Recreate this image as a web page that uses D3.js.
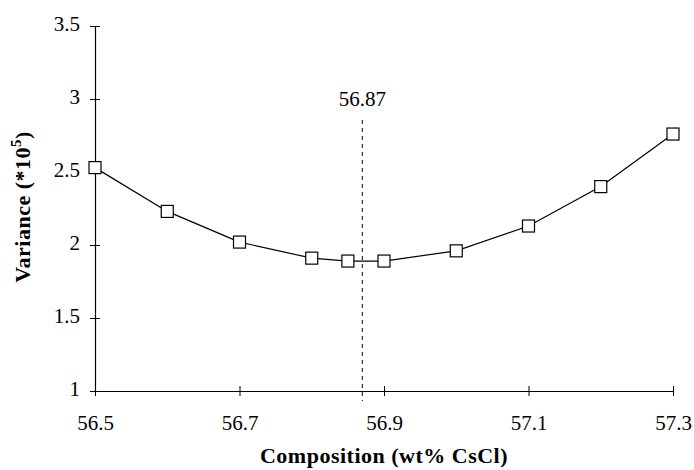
<!DOCTYPE html>
<html>
<head>
<meta charset="utf-8">
<script src="https://cdn.jsdelivr.net/npm/d3@7"></script>
<style>
    body { margin: 0; background: #fff; }
    text { font-family: "Liberation Serif", "Times New Roman", serif; }
</style>
</head>
<body>
<div id="chart"></div>
<script>
// composition (wt% CsCl) and variance (*10^5)
const composition = [56.5, 56.6, 56.7, 56.8, 56.85, 56.9, 57.0, 57.1, 57.2, 57.3];
const variance = [2.53, 2.23, 2.02, 1.91, 1.89, 1.89, 1.96, 2.13, 2.40, 2.76];
const xTicks = [56.5, 56.7, 56.9, 57.1, 57.3];
const yTicks = [1, 1.5, 2, 2.5, 3, 3.5];
const optimum = 56.87;

const width = 694, height = 470;
const margin = { top: 26, right: 21, bottom: 79, left: 95 };

const svg = d3.select('#chart')
    .append('svg')
    .attr('width', width)
    .attr('height', height);

const x = d3.scaleLinear()
    .domain([56.5, 57.3])
    .range([margin.left, width - margin.right]);

const y = d3.scaleLinear()
    .domain([1, 3.5])
    .range([height - margin.bottom, margin.top]);

// Axes, ticks crossing the line
const xAxis = svg.append('g')
    .attr('transform', `translate(0,${y(1)})`)
    .call(d3.axisBottom(x).tickValues(xTicks).tickFormat(d3.format('.1f')).tickSize(5).tickSizeOuter(0));
xAxis.selectAll('.tick line').attr('y1', -5).attr('y2', 5);

const yAxis = svg.append('g')
    .attr('transform', `translate(${x(56.5)},0)`)
    .call(d3.axisLeft(y).tickValues(yTicks).tickFormat(d => d).tickSize(5).tickSizeOuter(0));
yAxis.selectAll('.tick line').attr('x1', -5).attr('x2', 5);

svg.selectAll('.domain').attr('stroke', '#000').attr('stroke-width', 1.2);
svg.selectAll('.tick line').attr('stroke', '#000');
svg.selectAll('.tick text')
    .style('font-size', '21px')
    .attr('fill', '#000');
xAxis.selectAll('.tick text').attr('y', 24).attr('dy', '0.71em');
yAxis.selectAll('.tick text').attr('x', -15).attr('dy', '0.2em');

// Optimum marker
svg.append('line')
    .attr('x1', x(optimum)).attr('x2', x(optimum))
    .attr('y1', 120).attr('y2', y(1) + 10)
    .attr('stroke', '#000')
    .attr('stroke-dasharray', '4,4');

svg.append('text')
    .attr('x', x(optimum))
    .attr('y', 106)
    .attr('text-anchor', 'middle')
    .style('font-size', '21px')
    .text('56.87');

// Curve
const line = d3.line()
    .x((d, i) => x(composition[i]))
    .y(d => y(d));

svg.append('path')
    .datum(variance)
    .attr('d', line)
    .attr('fill', 'none')
    .attr('stroke', '#000')
    .attr('stroke-width', 1.2);

const s = 12;
svg.selectAll('.pt')
    .data(variance)
    .enter()
    .append('rect')
    .attr('class', 'pt')
    .attr('x', (d, i) => x(composition[i]) - s / 2)
    .attr('y', d => y(d) - s / 2)
    .attr('width', s)
    .attr('height', s)
    .attr('fill', '#fff')
    .attr('stroke', '#000')
    .attr('stroke-width', 1.2);

// Axis titles
svg.append('text')
    .attr('x', 384)
    .attr('y', 463)
    .attr('text-anchor', 'middle')
    .style('font-size', '22px')
    .style('font-weight', 'bold')
    .style('letter-spacing', '0.5px')
    .text('Composition (wt% CsCl)');

const yTitle = svg.append('text')
    .attr('transform', `translate(30,207) rotate(-90)`)
    .attr('text-anchor', 'middle')
    .style('font-size', '22px')
    .style('font-weight', 'bold')
    .style('letter-spacing', '0.5px');
yTitle.append('tspan').text('Variance (*10');
yTitle.append('tspan').attr('dy', -9).style('font-size', '15px').text('5');
yTitle.append('tspan').attr('dy', 9).text(')');
</script>
</body>
</html>
